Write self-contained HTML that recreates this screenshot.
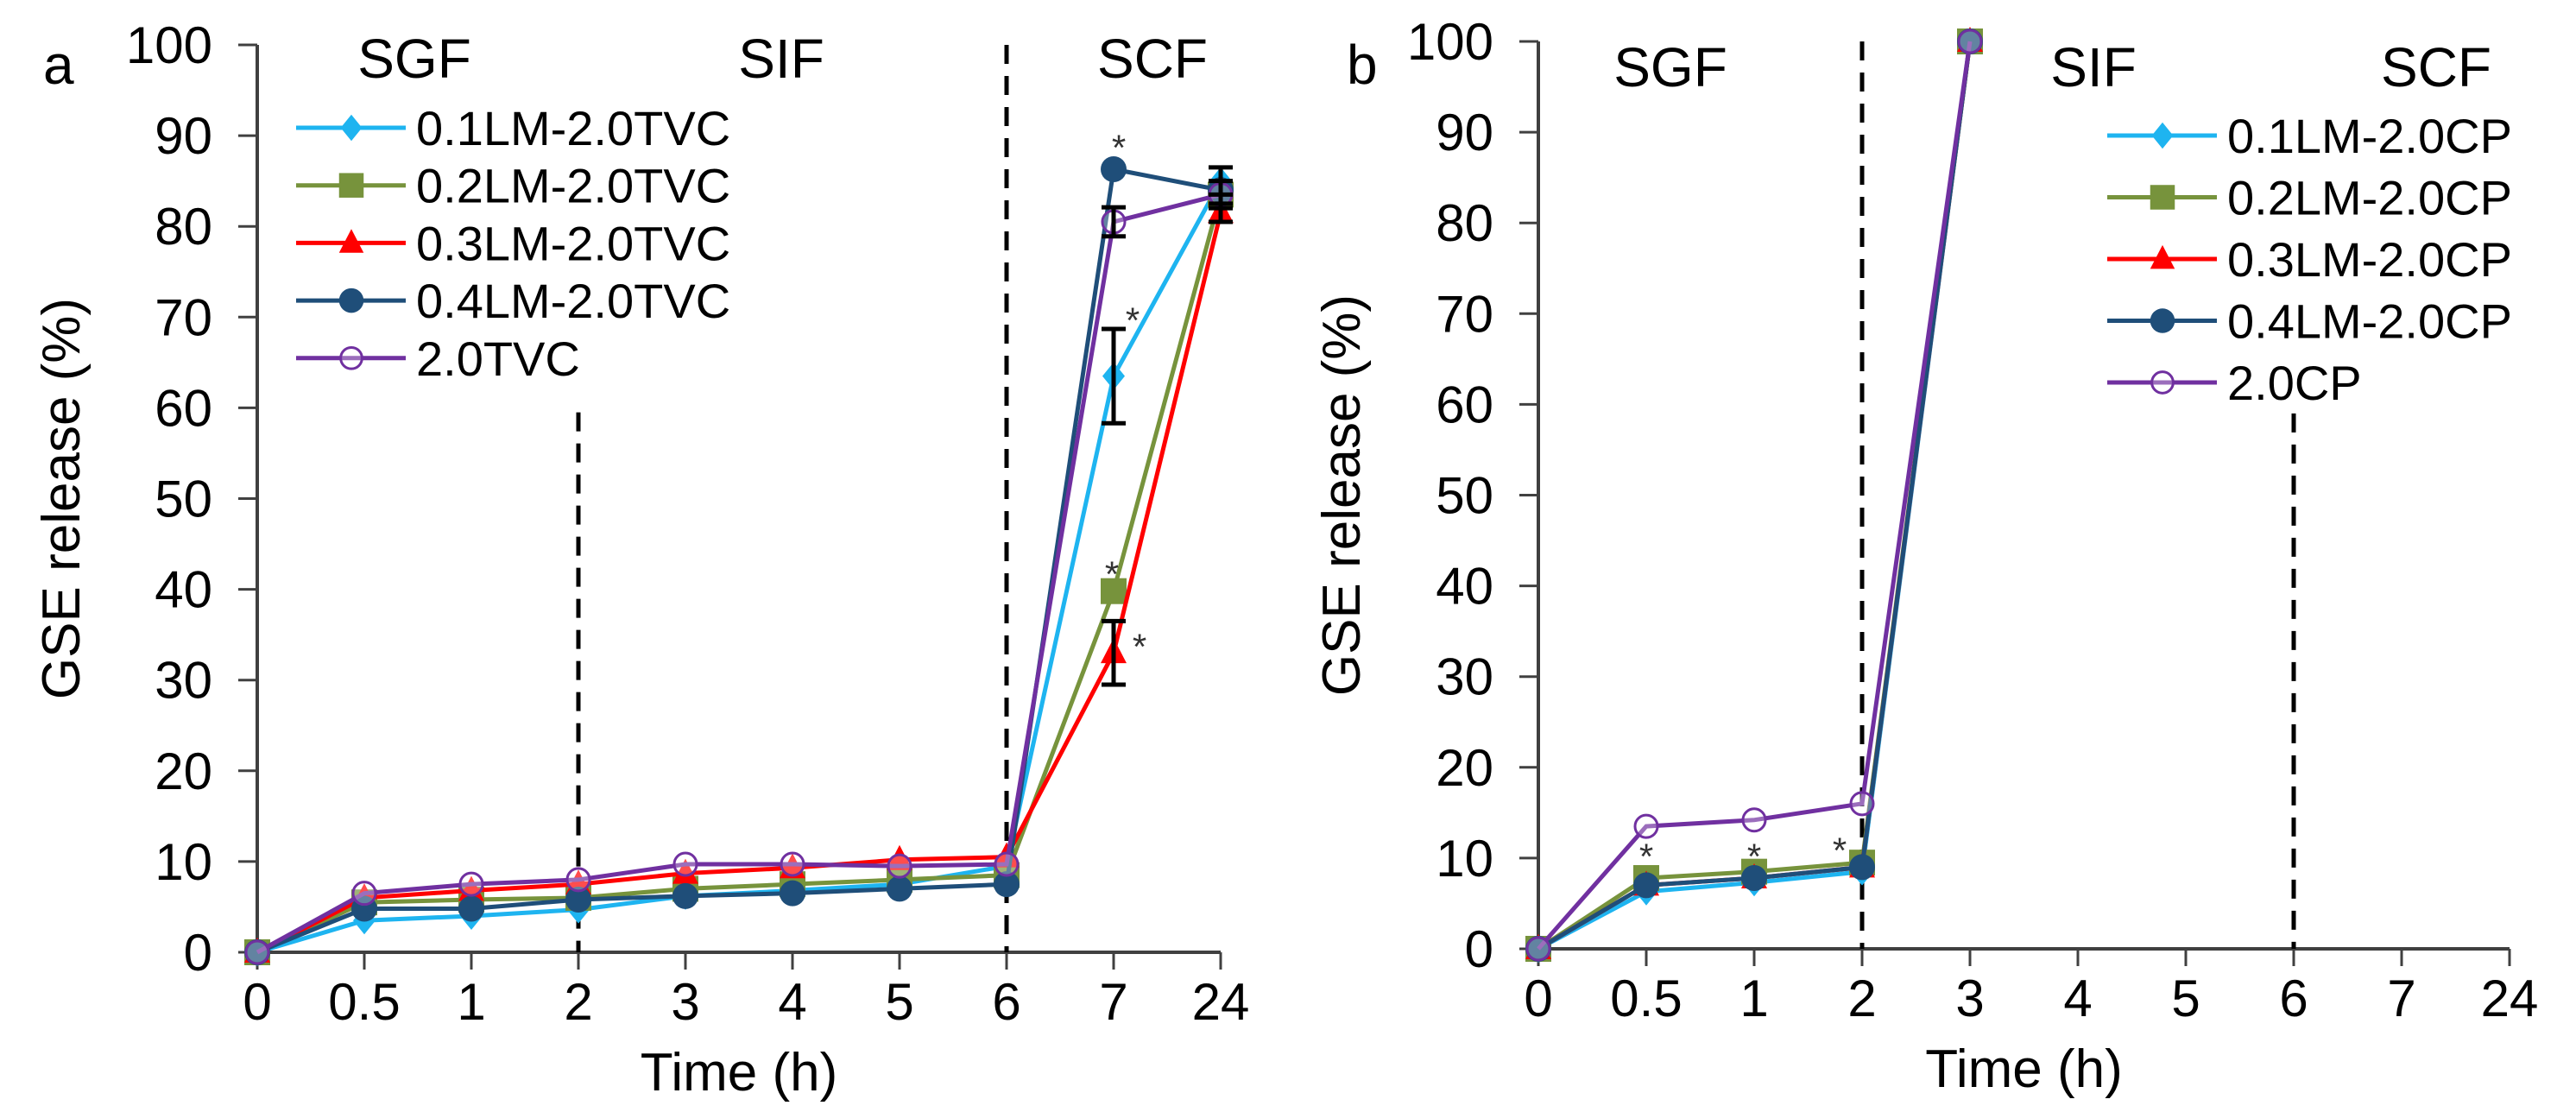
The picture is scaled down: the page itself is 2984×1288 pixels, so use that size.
<!DOCTYPE html>
<html><head><meta charset="utf-8"><style>
html,body{margin:0;padding:0;background:#fff;}
svg{display:block;font-family:"Liberation Sans",Arial,sans-serif;}
</style></head><body>
<svg id="chart" width="2984" height="1288" viewBox="0 0 2984 1288" xmlns="http://www.w3.org/2000/svg"></svg>
<script>
const categories = ["0","0.5","1","2","3","4","5","6","7","24"];
const yTicks = [0,10,20,30,40,50,60,70,80,90,100];
const seriesNamesA = ["0.1LM-2.0TVC","0.2LM-2.0TVC","0.3LM-2.0TVC","0.4LM-2.0TVC","2.0TVC"];
const seriesNamesB = ["0.1LM-2.0CP","0.2LM-2.0CP","0.3LM-2.0CP","0.4LM-2.0CP","2.0CP"];
const a1 = [0,3.5,4,4.7,6.2,6.8,7.5,9.5,63.5,85];
const a2 = [0,5.5,5.8,6,7,7.5,8,8.5,39.8,83.5];
const a3 = [0,6,6.8,7.5,8.7,9.3,10.2,10.5,33,81.5];
const a4 = [0,4.8,4.8,5.8,6.2,6.5,7,7.5,86.3,84];
const a5 = [0,6.5,7.5,8,9.7,9.7,9.5,9.7,80.5,83.5];
const b1 = [0,6.3,7.3,8.5,100];
const b2 = [0,7.8,8.5,9.5,100];
const b3 = [0,7,7.8,9,100];
const b4 = [0,7,7.8,9,100];
const b5 = [0,13.5,14.2,16,100];
const errA1 = [0,0,0,0,0,0,0,0,5.2,1.5];
const errA3 = [0,0,0,0,0,0,0,0,3.5,1];
const errA5 = [0,0,0,0,0,0,0,0,1.6,1.5];
const colors = ["#1EB4F0","#77933C","#FF0000","#1F4E79","#7030A0"];
const markers = ["diamond","square","triangle","circle","open"];

const NS="http://www.w3.org/2000/svg";
const svg=document.getElementById('chart');
function mk(tag,attrs,parent){const e=document.createElementNS(NS,tag);for(const k in attrs)e.setAttribute(k,attrs[k]);(parent||svg).appendChild(e);return e;}

function panel(cfg){
  const g=mk('g',{});
  
  
  const X=i=>cfg.x0+i*cfg.step;
  const Y=v=>cfg.y0-v*(cfg.y0-cfg.y100)/100;
  const ya=mk('line',{x1:cfg.x0,y1:Y(100),x2:cfg.x0,y2:cfg.y0,stroke:'#404040','stroke-width':4},g);
  
  
  const xa=mk('line',{x1:cfg.x0,y1:cfg.y0,x2:X(categories.length-1),y2:cfg.y0,stroke:'#404040','stroke-width':4},g);
  
  
  yTicks.forEach(v=>{
    mk('line',{x1:cfg.x0-22,y1:Y(v),x2:cfg.x0,y2:Y(v),stroke:'#404040','stroke-width':3},g);
    const t=mk('text',{x:cfg.x0-52,y:Y(v)+21,'text-anchor':'end','font-size':60,fill:'#000'},g);
    t.textContent=v;
    
    
  });
  categories.forEach((c,i)=>{
    mk('line',{x1:X(i),y1:cfg.y0,x2:X(i),y2:cfg.y0+20,stroke:'#404040','stroke-width':3},g);
    const t=mk('text',{x:X(i),y:cfg.y0+78,'text-anchor':'middle','font-size':60,fill:'#000'},g);
    t.textContent=c;
    
    
  });
  const xt=mk('text',{x:(cfg.x0+X(9))/2,y:cfg.y0+160,'text-anchor':'middle','font-size':62,fill:'#000'},g);
  xt.textContent='Time (h)';
  
  
  const yt=mk('text',{x:0,y:0,'text-anchor':'middle','font-size':62,fill:'#000',transform:`translate(${cfg.ytx},${(Y(100)+cfg.y0)/2}) rotate(-90)`},g);
  yt.textContent='GSE release (%)';
  
  
  const pl=mk('text',{x:cfg.letterX,y:97,'font-size':64,fill:'#000'},g);
  pl.textContent=cfg.letter;
  
  
  cfg.phases.forEach(p=>{
    const t=mk('text',{x:p[1],y:p[2],'text-anchor':'middle','font-size':64,fill:'#000'},g);
    t.textContent=p[0];
    
    
  });
  cfg.dashes.forEach(d=>{
    const l=mk('line',{x1:X(d[0]),y1:Y(d[1]),x2:X(d[0]),y2:cfg.y0,stroke:'#000','stroke-width':5,'stroke-dasharray':'22,14'},g);
    
    
  });
  function marker(type,color,x,y,parent,s){
    s=s||1;
    if(type==='diamond') return mk('polygon',{points:`${x},${y-16*s} ${x+13*s},${y} ${x},${y+16*s} ${x-13*s},${y}`,fill:color},parent);
    if(type==='square') return mk('rect',{x:x-15*s,y:y-15*s,width:30*s,height:30*s,fill:color},parent);
    if(type==='triangle') return mk('polygon',{points:`${x},${y-17*s} ${x+15*s},${y+12*s} ${x-15*s},${y+12*s}`,fill:color},parent);
    if(type==='circle') return mk('circle',{cx:x,cy:y,r:15*s,fill:color},parent);
    return mk('circle',{cx:x,cy:y,r:13*s,fill:'#fff','fill-opacity':0.3,stroke:color,'stroke-width':3},parent);
  }
  cfg.series.forEach((vals,si)=>{
    const sg=mk('g',{},g);
    
    
    const pts=vals.map((v,i)=>X(i)+','+Y(v)).join(' ');
    const pl=mk('polyline',{points:pts,fill:'none',stroke:colors[si],'stroke-width':5},sg);
    
    
    vals.forEach((v,i)=>{
      const m=marker(markers[si],colors[si],X(i),Y(v),sg);
      
      
    });
  });
  (cfg.errors||[]).forEach(e=>{
    const vals=e[0],errs=e[1];
    errs.forEach((er,i)=>{
      if(!er)return;
      const x=X(i),v=vals[i];
      const eb=mk('path',{d:`M${x},${Y(v+er)}V${Y(v-er)}M${x-14},${Y(v+er)}H${x+14}M${x-14},${Y(v-er)}H${x+14}`,stroke:'#000','stroke-width':5,fill:'none'},g);
      
      
    });
  });
  (cfg.stars||[]).forEach(s=>{
    const t=mk('text',{x:X(s[0])+s[2],y:Y(s[1])+18,'text-anchor':'middle','font-size':42,fill:'#333'},g);
    t.textContent='*';
    
    
  });
  cfg.names.forEach((n,i)=>{
    const y=cfg.legY+i*cfg.legStep;
    const lg=mk('g',{},g);
    
    
    mk('line',{x1:cfg.legX,y1:y,x2:cfg.legX+127,y2:y,stroke:colors[i],'stroke-width':5},lg);
    marker(markers[i],colors[i],cfg.legX+64,y,lg,0.95);
    const t=mk('text',{x:cfg.legX+139,y:y+20,'font-size':56,fill:'#000'},lg);
    t.textContent=n;
  });
}

panel({name:'panel-a',letter:'a',letterX:50,x0:298,step:124,y0:1103,y100:52,ytx:92,
  phases:[['SGF',480,90],['SIF',905,90],['SCF',1335,90]],
  dashes:[[3,59.5],[7,100]],
  series:[a1,a2,a3,a4,a5],names:seriesNamesA,
  errors:[[a1,errA1],[a3,errA3],[a5,errA5]],
  stars:[[8,89,6],[8,70,22],[8,42,-2],[8,34,30]],
  legX:343,legY:148,legStep:66.7});
panel({name:'panel-b',letter:'b',letterX:1560,x0:1782,step:125,y0:1099,y100:48,ytx:1575,
  phases:[['SGF',1935,100],['SIF',2425,100],['SCF',2822,100]],
  dashes:[[3,100],[7,59]],
  series:[b1,b2,b3,b4,b5],names:seriesNamesB,
  stars:[[1,10.5,0],[2,10.5,0],[3,11.2,-26]],
  legX:2441,legY:157,legStep:71.5});
</script>
</body></html>
